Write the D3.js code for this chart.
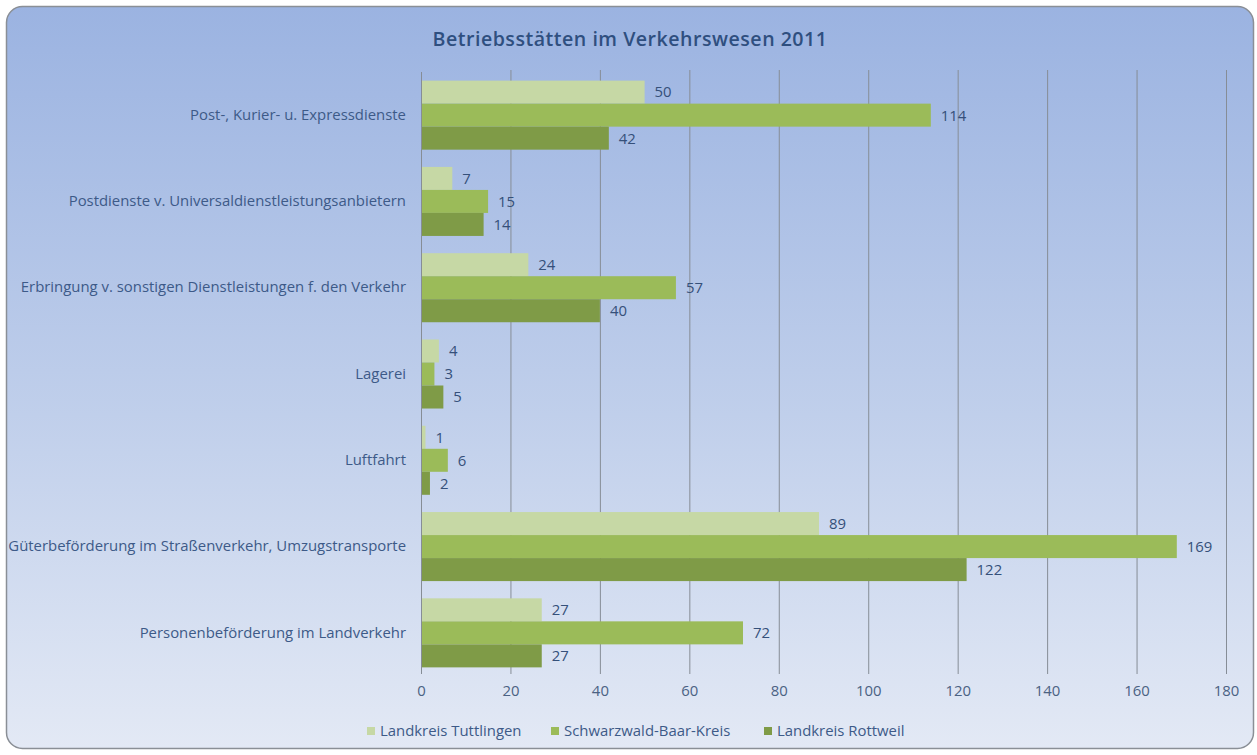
<!DOCTYPE html>
<html><head><meta charset="utf-8">
<script src="https://cdn.jsdelivr.net/npm/d3@7"></script>
<style>body{margin:0;background:#fff}svg{display:block}</style>
</head><body>
<script>
const categories = ["Post-, Kurier- u. Expressdienste","Postdienste v. Universaldienstleistungsanbietern","Erbringung v. sonstigen Dienstleistungen f. den Verkehr","Lagerei","Luftfahrt","Güterbeförderung im Straßenverkehr, Umzugstransporte","Personenbeförderung im Landverkehr"];
const seriesNames = ["Landkreis Tuttlingen","Schwarzwald-Baar-Kreis","Landkreis Rottweil"];
const tuttlingen = [50,7,24,4,1,89,27];
const schwarzwald = [114,15,57,3,6,169,72];
const rottweil = [42,14,40,5,2,122,27];
const xTicks = [0,20,40,60,80,100,120,140,160,180];
const title = "Betriebsstätten im Verkehrswesen 2011";
const colors = ["#c6d8a5","#9bbb59","#7f9b47"];
const seriesValues = [tuttlingen, schwarzwald, rottweil];

const W=1257,H=755;
const font = "'Open Sans', Lato, sans-serif";
const fs = 14.9;
const svg = d3.select("body").append("svg").attr("width",W).attr("height",H);
const defs = svg.append("defs");
const g1 = defs.append("linearGradient").attr("id","bg").attr("x1",0).attr("y1",0).attr("x2",0).attr("y2",1);
g1.append("stop").attr("offset","0%").attr("stop-color","#9bb3e1");
g1.append("stop").attr("offset","55%").attr("stop-color","#c0cfeb");
g1.append("stop").attr("offset","100%").attr("stop-color","#e3e9f5");
svg.append("rect").attr("x",6.5).attr("y",6.5).attr("width",1247).attr("height",742).attr("rx",16)
  .attr("fill","url(#bg)").attr("stroke","#8a8f96").attr("stroke-width",1.5);

svg.append("text").attr("x",630).attr("y",46).attr("text-anchor","middle")
  .attr("font-family",font).attr("font-size",19.6).attr("font-weight",600).attr("fill","#2f4f7f").attr("letter-spacing",0.5).text(title);

const x = d3.scaleLinear().domain([0,180]).range([421,1226]);
const y = d3.scaleBand().domain(categories).range([72,676]).paddingInner(0.2).paddingOuter(0.1);
const ys = d3.scaleBand().domain(seriesNames).range([0,y.bandwidth()]);

// grid
svg.append("g").selectAll("line").data(xTicks.slice(1)).join("line")
  .attr("x1",d=>x(d)+0.5).attr("x2",d=>x(d)+0.5).attr("y1",70).attr("y2",674)
  .attr("stroke","#868d96").attr("stroke-width",1);

const xAxis = d3.axisBottom(x).tickValues(xTicks).tickSize(0).tickPadding(0);
const ax = svg.append("g").attr("transform","translate(0,684)").call(xAxis);
ax.select(".domain").remove();
ax.selectAll("text").attr("font-family",font).attr("font-size",fs).attr("fill","#4b6283").attr("dy","0.8em");

// bars
const groups = svg.append("g").selectAll("g").data(categories).join("g")
  .attr("transform",d=>`translate(0,${y(d)})`);
seriesNames.forEach((s,si)=>{
  groups.append("rect").attr("x",x(0)).attr("y",ys(s)).attr("height",ys.bandwidth())
    .attr("width",(d,i)=>x(seriesValues[si][i])-x(0)).attr("fill",colors[si]);
  groups.append("text").attr("x",(d,i)=>x(seriesValues[si][i])+10).attr("y",ys(s)+ys.bandwidth()/2)
    .attr("dy","0.36em").attr("font-family",font).attr("font-size",fs).attr("fill","#35507a")
    .text((d,i)=>seriesValues[si][i]);
});

// y axis
const yAxis = d3.axisLeft(y).tickSize(0).tickPadding(15);
const ay = svg.append("g").attr("transform",`translate(${x(0)},0)`).call(yAxis);
ay.select(".domain").attr("stroke","#868d96").attr("d",`M0.5,72V674`);
ay.selectAll("text").attr("font-family",font).attr("font-size",fs).attr("fill","#3d5a88");

// legend
const legX = [367,551,764];
const leg = svg.append("g").selectAll("g").data(seriesNames).join("g")
  .attr("transform",(d,i)=>`translate(${legX[i]},731)`);
leg.append("rect").attr("x",0).attr("y",-4).attr("width",8).attr("height",8).attr("fill",(d,i)=>colors[i]);
leg.append("text").attr("x",13).attr("y",0).attr("dy","0.36em").attr("font-family",font).attr("font-size",fs).attr("fill","#3d5a88").text(d=>d);
</script>
</body></html>
